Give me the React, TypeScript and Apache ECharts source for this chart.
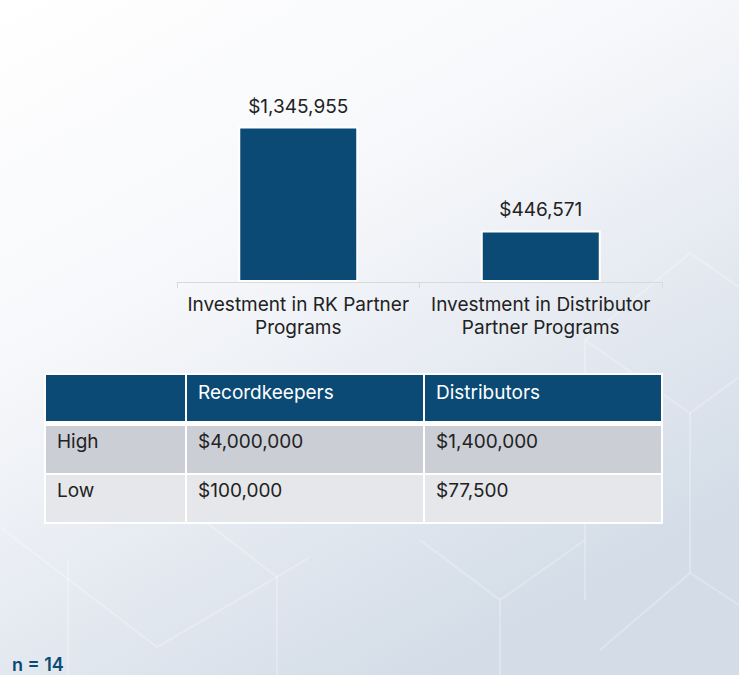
import * as echarts from 'echarts';
import React, { useEffect, useRef } from 'react';

const categories = ['Investment in RK Partner Programs', 'Investment in Distributor Partner Programs'];
const investment = [1345955, 446571];

const tableHeader = ['', 'Recordkeepers', 'Distributors'];
const tableRows = [
  ['High', '$4,000,000', '$1,400,000'],
  ['Low', '$100,000', '$77,500'],
];
const sampleNote = 'n = 14';

const NAVY = '#0b4a75';
const FONT = 'Inter, Roboto, sans-serif';

const money = (v: number) => '$' + v.toLocaleString('en-US');

// greedy word wrap for the axis labels
const wrap = (s: string, max: number) => {
  const lines: string[] = [];
  let cur = '';
  s.split(' ').forEach((w) => {
    const next = cur ? cur + ' ' + w : w;
    if (next.length > max && cur) {
      lines.push(cur);
      cur = w;
    } else {
      cur = next;
    }
  });
  if (cur) lines.push(cur);
  return lines.join('\n');
};

const colEdges = [46, 186, 424, 661];
const rowTops = [375, 426, 475];
const rowHeights = [46, 47, 47];
const rowFills = [NAVY, '#cbced5', '#e6e7ea'];
const textOffsets = [17, 15, 15];

const buildTable = () => {
  const els: any[] = [
    {
      type: 'rect',
      shape: { x: 44, y: 373, width: 619, height: 151 },
      style: { fill: '#ffffff' },
      silent: true,
    },
  ];
  const rows = [tableHeader, ...tableRows];
  rows.forEach((row, r) => {
    row.forEach((cell, c) => {
      const x0 = colEdges[c] + (c === 0 ? 0 : 1);
      const x1 = colEdges[c + 1] - (c === 2 ? 0 : 1);
      els.push({
        type: 'rect',
        shape: { x: x0, y: rowTops[r], width: x1 - x0, height: rowHeights[r] },
        style: { fill: rowFills[r] },
        silent: true,
      });
      if (cell) {
        els.push({
          type: 'text',
          x: x0 + 11,
          y: rowTops[r] + textOffsets[r],
          style: {
            text: cell,
            fill: r === 0 ? '#ffffff' : '#222222',
            font: `19px ${FONT}`,
            verticalAlign: 'middle',
          },
          silent: true,
        });
      }
    });
  });
  return els;
};

// faint hexagon pattern in the background
const hexLines: number[][][] = [
  [[585, 340], [690, 253], [739, 287]],
  [[585, 340], [585, 600]],
  [[585, 340], [690, 413], [739, 377]],
  [[690, 413], [690, 573]],
  [[690, 573], [600, 650]],
  [[690, 573], [739, 605]],
  [[0, 527], [157, 647], [277, 577], [310, 557]],
  [[207, 523], [277, 577], [277, 675]],
  [[68, 560], [68, 675]],
  [[420, 540], [500, 600], [500, 675]],
  [[500, 600], [585, 540]],
];

const App: React.FC = () => {
  const chartRef = useRef<HTMLDivElement>(null);

  useEffect(() => {
    document.body.style.margin = '0';
    if (!chartRef.current) return;
    const chart = echarts.init(chartRef.current, undefined, { renderer: 'svg' });

    const option: echarts.EChartsOption = {
      animation: false,
      backgroundColor: new echarts.graphic.LinearGradient(0, 0, 0.6, 1, [
        { offset: 0, color: '#ffffff' },
        { offset: 0.4, color: '#f7f8fb' },
        { offset: 1, color: '#d3dce7' },
      ]),
      textStyle: { fontFamily: FONT },
      grid: { left: 177, right: 77, top: 51, bottom: 393 },
      xAxis: {
        type: 'category',
        data: categories,
        axisLine: { lineStyle: { color: '#d9d9d9', width: 1 } },
        axisTick: { show: true, length: 6, lineStyle: { color: '#d9d9d9' } },
        axisLabel: {
          color: '#222222',
          fontSize: 19,
          lineHeight: 23,
          margin: 11,
          interval: 0,
          formatter: (v: string) => wrap(v, 25),
        },
      },
      yAxis: {
        type: 'value',
        min: 0,
        max: 2000000,
        show: false,
        splitLine: { show: false },
      },
      series: [
        {
          type: 'bar',
          data: investment,
          barWidth: 120,
          itemStyle: { color: NAVY, borderColor: '#ffffff', borderWidth: 2 },
          label: {
            show: true,
            position: 'top',
            distance: 11,
            color: '#222222',
            fontSize: 19,
            formatter: (p: any) => money(p.value as number),
          },
        },
      ],
      graphic: [
        ...hexLines.map((pts) => ({
          type: 'polyline',
          shape: { points: pts },
          style: { stroke: 'rgba(255,255,255,0.25)', lineWidth: 2, fill: 'none' },
          silent: true,
          z: -10,
        })),
        ...buildTable(),
        {
          type: 'text',
          left: 12,
          top: 655,
          style: {
            text: sampleNote,
            fill: NAVY,
            font: `600 18px ${FONT}`,
          },
          silent: true,
        },
      ] as any,
    };

    chart.setOption(option);

    const handleResize = () => chart.resize();
    window.addEventListener('resize', handleResize);
    return () => {
      window.removeEventListener('resize', handleResize);
      chart.dispose();
    };
  }, []);

  return <div ref={chartRef} style={{ width: '739px', height: '675px' }} />;
};

export default App;
